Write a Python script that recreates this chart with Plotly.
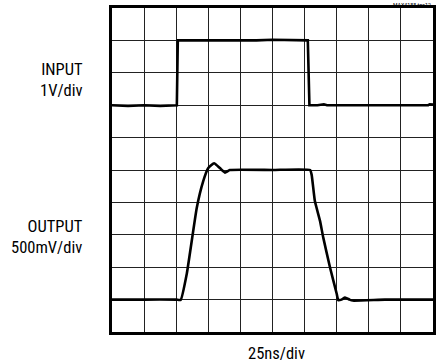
import plotly.graph_objects as go

# time in divisions (25ns/div), amplitude in divisions
input_t = [0.0, 0.5, 1.0, 1.5, 2.02, 2.03, 2.05, 4.5, 5.0, 6.10, 6.12, 6.15, 6.4, 6.6, 6.7, 9.0, 9.85, 9.9, 10.0]
input_v = [7.0, 6.98, 7.0, 6.98, 7.0, 8.0, 9.0, 9.0, 9.02, 9.0, 8.0, 7.0, 7.0, 7.03, 7.0, 7.0, 7.0, 7.03, 7.02]

output_t = [0.0, 1.0, 2.0, 2.14, 2.33, 2.64, 2.84, 3.0, 3.18, 3.36, 3.52, 3.67, 5.0, 6.17, 6.22, 6.32, 6.48,
            6.58, 6.79, 7.0, 7.05, 7.15, 7.26, 7.4, 7.5, 8.5, 10.0]
output_v = [1.0, 1.0, 1.0, 0.99, 1.8, 3.83, 4.65, 5.06, 5.21, 5.06, 4.92, 5.0, 5.0, 5.0, 4.85, 4.04, 3.43,
            2.92, 2.0, 1.18, 0.98, 1.0, 1.06, 1.0, 0.97, 1.0, 1.0]

fig = go.Figure()
fig.add_trace(go.Scatter(x=input_t, y=input_v, mode="lines",
                         line=dict(color="black", width=2.6), hoverinfo="skip"))
fig.add_trace(go.Scatter(x=output_t, y=output_v, mode="lines",
                         line=dict(color="black", width=2.6, shape="spline", smoothing=0.4),
                         hoverinfo="skip"))

axis_common = dict(range=[0, 10], dtick=1, showticklabels=False, ticks="",
                   showgrid=True, gridcolor="#222", gridwidth=1, zeroline=False,
                   showline=True, linecolor="black", linewidth=3, mirror=True,
                   fixedrange=True)
fig.update_xaxes(**axis_common)
fig.update_yaxes(**axis_common)

font_family = "Liberation Sans Narrow, Arial Narrow, Roboto Condensed, Liberation Sans, sans-serif"
label_font = dict(family=font_family, size=16.5, color="black")

fig.add_annotation(text="INPUT<br>1V/div", x=-0.084, y=0.778, xref="paper", yref="paper",
                   xanchor="right", yanchor="middle", align="right", showarrow=False, font=label_font)
fig.add_annotation(text="OUTPUT<br>500mV/div", x=-0.084, y=0.294, xref="paper", yref="paper",
                   xanchor="right", yanchor="middle", align="right", showarrow=False, font=label_font)
fig.add_annotation(text="25ns/div", x=0.512, y=-0.03, xref="paper", yref="paper",
                   xanchor="center", yanchor="top", showarrow=False, font=label_font)
fig.add_annotation(text="MAX4188 toc12", x=1.0, y=1.0, xref="paper", yref="paper",
                   xanchor="right", yanchor="bottom", yshift=-2, showarrow=False,
                   font=dict(family=font_family, size=6, color="black"))

fig.update_layout(width=444, height=362, margin=dict(l=112, r=11, t=5, b=30),
                  paper_bgcolor="white", plot_bgcolor="white", showlegend=False)

fig.write_html("out.html", config={"displayModeBar": False, "staticPlot": True},
               post_script="document.body.style.margin='0px';")
